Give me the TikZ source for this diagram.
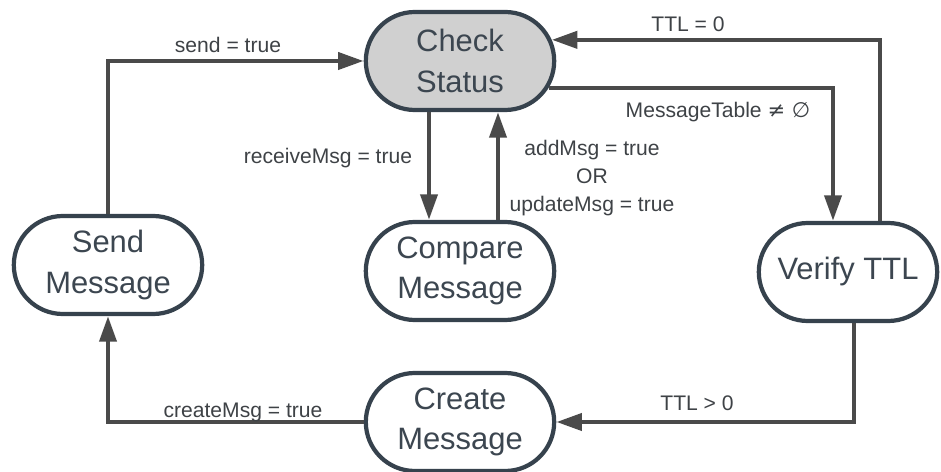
\documentclass[tikz,border=0pt]{standalone}
\usepackage{fontspec}
\setmainfont{Liberation Sans}
\newfontfamily\symfont{DejaVu Sans}
\usepackage{xcolor}
\usepackage{tikz}
\usetikzlibrary{calc,arrows.meta,shapes.misc}
\definecolor{edge}{HTML}{36424D}
\definecolor{ink}{HTML}{3C4650}
\definecolor{wire}{HTML}{4A4A4A}
\definecolor{lbl}{HTML}{3E4246}
\definecolor{shade}{HTML}{D0D0D0}
\tikzset{
  state/.style={rounded rectangle, draw=edge, line width=3pt, fill=white,
    minimum width=4.85cm, minimum height=2.45cm, inner sep=2pt, align=center,
    text=ink, font=\fontsize{22}{29}\selectfont},
  start/.style={state, fill=shade},
  flow/.style={draw=wire, line width=3.2pt, -{Triangle[length=0.64cm,width=0.42cm]}},
  lab/.style={text=lbl, font=\fontsize{15}{20}\selectfont, align=center, inner sep=1pt},
}
\begin{document}
\begin{tikzpicture}
  \useasboundingbox (0,0) rectangle (23.525,11.775);

  \node[start] (check)  at (11.5,10.25) {Check\\Status};
  \node[state] (send)   at (2.7,5.15)   {Send\\Message};
  \node[state] (cmp)    at (11.5,5.0)   {Compare\\Message};
  \node[state, minimum width=4.6cm] (verify) at (21.2,4.975) {Verify TTL};
  \node[state] (create) at (11.5,1.225) {Create\\Message};

  \draw[flow] (send.north) |- (check.west);
  \draw[flow] ([xshift=0.8cm]verify.north) |- (check.13);
  \draw[flow] (check.-17) -| ([xshift=-0.375cm]verify.north);
  \draw[flow] ([xshift=-0.775cm]check.south) -- ([xshift=-0.775cm]cmp.north);
  \draw[flow] ([xshift=0.95cm]cmp.north) -- ([xshift=0.95cm]check.south);
  \draw[flow] ([xshift=0.15cm]verify.south) |- (create.east);
  \draw[flow] (create.west) -| (send.south);

  \node[lab] (l1) at (5.7,10.65)   {send = true};
  \node[lab] (l2) at (17.2,11.175) {TTL = 0};
  \node[lab] (l3) at (17.95,8.975) {MessageTable {\symfont ≠ ∅}};
  \node[lab] (l4) at (8.2,7.825)   {receiveMsg = true};
  \node[lab] (l5) at (14.8,7.325)  {addMsg = true\\OR\\updateMsg = true};
  \node[lab] (l6) at (17.425,1.7)  {TTL > 0};
  \node[lab] (l7) at (6.075,1.475) {createMsg = true};
\end{tikzpicture}
\end{document}
